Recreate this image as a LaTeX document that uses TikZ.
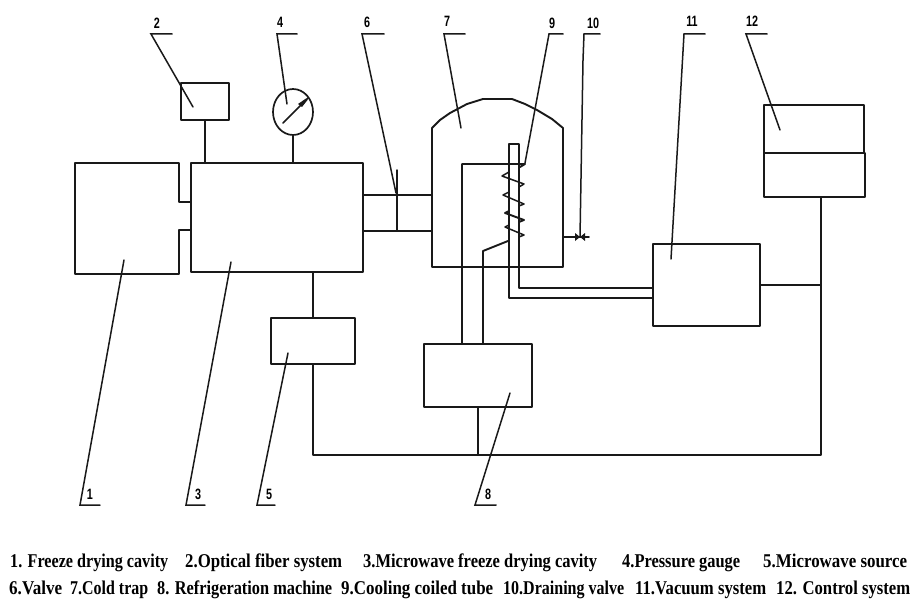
\documentclass[tikz,border=0pt]{standalone}
\usepackage{fontspec}
\setmainfont{Liberation Serif}
\newfontfamily\digitfont{Liberation Sans}
\usetikzlibrary{shapes.geometric,calc}
\tikzset{
  ln/.style={line width=1.9pt,line cap=round,line join=round,draw=black!90},
  thin ln/.style={line width=1.5pt,line cap=round,line join=round,draw=black!90},
  lead/.style={line width=1.5pt,line cap=round,line join=miter,draw=black!90},
  boxn/.style={draw=black!90,line width=1.9pt,rectangle,inner sep=0pt,outer sep=0pt,line join=round},
  gaugen/.style={draw=black!90,line width=1.7pt,ellipse,inner sep=0pt,outer sep=0pt,minimum width=40pt,minimum height=46pt},
  numn/.style={inner sep=0pt,font=\digitfont\bfseries\fontsize{15}{16}\selectfont},
  leg/.style={inner sep=0pt,anchor=base west,font=\bfseries\fontsize{19.5}{21}\selectfont}
}
\newcommand{\legitem}[5]{\node[leg] (#1) at (#2,#3) {\resizebox{#4pt}{\height}{#5}};}
\newcommand{\numtext}[1]{\scalebox{.72}[1]{#1}}
\begin{document}
\begin{tikzpicture}[x=1pt,y=-1pt]
\useasboundingbox (0,0) rectangle (912,599);
% boxes
\node[boxn,minimum width=172pt,minimum height=109pt] (b3) at (277,217.5) {};
\node[boxn,minimum width=48pt,minimum height=37pt] (b2) at (205,101.5) {};
\node[boxn,minimum width=84pt,minimum height=46pt] (b5) at (313,341) {};
\node[boxn,minimum width=108pt,minimum height=63pt] (b8) at (478,375.5) {};
\node[boxn,minimum width=107pt,minimum height=82pt] (b11) at (706.5,285) {};
\node[boxn,minimum width=100pt,minimum height=48pt] (b12a) at (814,129) {};
\node[boxn,minimum width=101pt,minimum height=44pt] (b12b) at (814.5,175) {};
\node[gaugen] (g4) at (293,112) {};
% box 1 with neck
\draw[ln] (b3.west |- 0,202) -- (179,202) -- (179,163) -- (75,163) -- (75,274) -- (179,274) -- (179,230) -- (b3.west |- 0,230);
% gauge needle
\coordinate (nA) at (283,123); \coordinate (nB) at (308,98);
\draw[thin ln] (nA) -- (nB);
\fill[black!90] (306,98.5) -- (307.5,100) -- (302,107) -- (298,104) -- cycle;
% stems
\draw[ln] (b2.south) -- (b2.south |- b3.north);
\draw[thin ln] (g4.south) -- (g4.south |- b3.north);
% pipe and valve
\coordinate (p1) at (363,195); \coordinate (p2) at (363,231);
\coordinate (q1) at (432,195); \coordinate (q2) at (432,231);
\coordinate (v1) at (397,170); \coordinate (v2) at (397,231);
\draw[ln] (p1) -- (q1);
\draw[thin ln] (p2) -- (q2);
\draw[thin ln] (v1) -- (v2);
% cold trap
\draw[ln] (432,128) -- (432,267) -- (563,267) -- (563,128) -- (552,119) -- (537,110) -- (525,104) -- (512,99) -- (483,99) -- (467,104) -- (450,113) -- (440,120) -- cycle;
% tube
\coordinate (tL) at (509,144); \coordinate (tR) at (519,144);
\draw[ln] (653,298) -- (509,298) -- (tL) -- (tR) -- (519,288) -- (653,288);
% refrigerant pipes
\coordinate (r1) at (462,344); \coordinate (r2) at (483,344);
\draw[ln] (r1) -- (462,164) -- (525,164) -- (520,167);
\draw[ln] (r2) -- (483,251) -- (508,241);
% coil
\draw[ln,line width=1.5pt] (509,172) -- (502,176) -- (524,184) -- (519,187);
\draw[ln,line width=1.5pt] (509,192) -- (503,195) -- (524,204) -- (519,206);
\draw[ln,line width=1.9pt] (509,211) -- (505,213) -- (524,220) -- (519,222);
\draw[ln,line width=1.5pt] (509,225) -- (505,227) -- (524,235) -- (519,237);
% draining valve
\coordinate (dv) at (575,237);
\draw[thin ln] (563,237) -- (dv) -- (589,237);
\fill[black!90] (575,233) -- (585,241) -- (585,233) -- (575,241) -- cycle;
% connectors
\coordinate (j) at (821,285); \coordinate (s12) at (821,197);
\coordinate (busL) at (313,455); \coordinate (busR) at (821,455);
\draw[ln] (b5.north |- b3.south) -- (b5.north);
\draw[ln] (b5.south) -- (busL) -- (busR) -- (s12);
\draw[ln] (b11.east) -- (j);
\draw[ln] (b8.south) -- (b8.south |- busL);
% leaders (top)
\draw[lead] (172,34) -- (151,34) -- (193,107);
\draw[lead] (297,34) -- (277,34) -- (287,104);
\draw[lead] (384,34) -- (362,34) -- (396,193);
\draw[lead] (465,34) -- (444,34) -- (461,128);
\draw[lead] (563,34) -- (549,34) -- (525,163);
\draw[lead] (600,34) -- (584,34) -- (583,60) -- (580,237);
\draw[lead] (705,34) -- (684,34) -- (671,259);
\draw[lead] (767,34) -- (746,34) -- (780,130);
% leaders (bottom)
\draw[lead] (100,505) -- (80,505) -- (124,260);
\draw[lead] (205,505) -- (186,505) -- (231,262);
\draw[lead] (275,505) -- (257,505) -- (288,353);
\draw[lead] (496,505) -- (475,505) -- (510,393);
% numbers
\node[numn] (n2) at (157,23) {\numtext{2}};
\node[numn] (n4) at (280,22) {\numtext{4}};
\node[numn] (n6) at (367,22) {\numtext{6}};
\node[numn] (n7) at (447,21) {\numtext{7}};
\node[numn] (n9) at (552,23) {\numtext{9}};
\node[numn] (n10) at (593,23) {\numtext{10}};
\node[numn] (n11) at (692,21) {\numtext{11}};
\node[numn] (n12) at (752,21) {\numtext{12}};
\node[numn] (n1) at (90,494) {\numtext{1}};
\node[numn] (n3) at (198,494) {\numtext{3}};
\node[numn] (n5) at (269,494) {\numtext{5}};
\node[numn] (n8) at (488,494) {\numtext{8}};
% legend
\legitem{l1}{10}{567.5}{158}{1. Freeze drying cavity}
\legitem{l2}{185}{567.5}{157}{2.Optical fiber system}
\legitem{l3}{363}{567.5}{234}{3.Microwave freeze drying cavity}
\legitem{l4}{622}{567.5}{118}{4.Pressure gauge}
\legitem{l5}{763}{567.5}{144}{5.Microwave source}
\legitem{l6}{9}{594}{53}{6.Valve}
\legitem{l7}{70}{594}{78}{7.Cold trap}
\legitem{l8}{157}{594}{175}{8. Refrigeration machine}
\legitem{l9}{341}{594}{152}{9.Cooling coiled tube}
\legitem{l10}{503}{594}{121}{10.Draining valve}
\legitem{l11}{635}{594}{131}{11.Vacuum system}
\legitem{l12}{776}{594}{134}{12. Control system}
\end{tikzpicture}
\end{document}
